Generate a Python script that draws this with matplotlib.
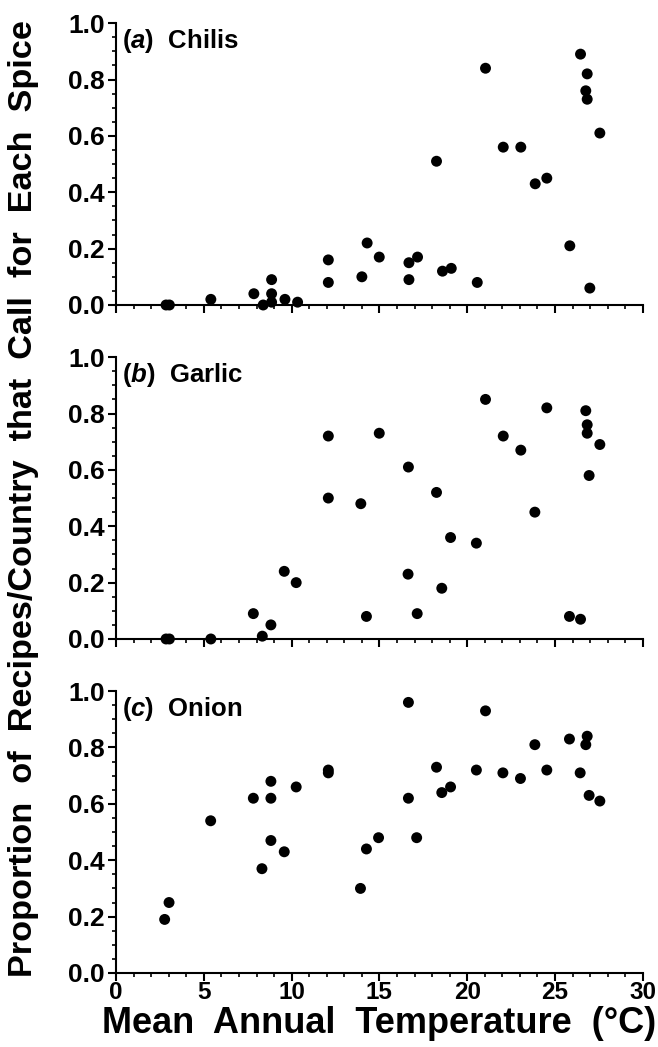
import matplotlib.pyplot as plt
from matplotlib.ticker import MultipleLocator, FormatStrFormatter

plt.rcParams["font.family"] = ["Liberation Sans", "DejaVu Sans"]
plt.rcParams["font.weight"] = "bold"
plt.rcParams["mathtext.fontset"] = "custom"
plt.rcParams["mathtext.it"] = "Liberation Sans:italic:bold"

# Mean annual temperature (C) and proportion of recipes
chili_t = [2.85, 3.04, 5.4, 7.85, 8.86, 8.86, 8.38, 8.86, 9.62, 10.34, 12.09, 12.09,
           14.3, 14.0, 14.99, 16.68, 17.17, 16.68, 18.59, 19.09, 18.25, 21.04, 20.57,
           22.05, 23.05, 23.87, 24.53, 25.84, 26.45, 26.83, 26.75, 26.83, 27.55, 26.98]
chili_p = [0.0, 0.0, 0.02, 0.04, 0.09, 0.04, 0.0, 0.01, 0.02, 0.01, 0.16, 0.08,
           0.22, 0.10, 0.17, 0.15, 0.17, 0.09, 0.12, 0.13, 0.51, 0.84, 0.08,
           0.56, 0.56, 0.43, 0.45, 0.21, 0.89, 0.82, 0.76, 0.73, 0.61, 0.06]

garlic_t = [2.85, 3.04, 5.4, 7.82, 8.33, 8.82, 9.58, 10.26, 12.09, 12.09,
            14.99, 13.94, 14.26, 16.65, 16.63, 17.15, 18.25, 18.55, 19.05, 20.52,
            21.04, 22.05, 23.05, 23.85, 24.53, 25.82, 26.45, 26.75, 26.83, 26.83,
            27.55, 26.94]
garlic_p = [0.0, 0.0, 0.0, 0.09, 0.01, 0.05, 0.24, 0.20, 0.72, 0.50,
            0.73, 0.48, 0.08, 0.61, 0.23, 0.09, 0.52, 0.18, 0.36, 0.34,
            0.85, 0.72, 0.67, 0.45, 0.82, 0.08, 0.07, 0.81, 0.76, 0.73,
            0.69, 0.58]

onion_t = [2.77, 3.02, 5.39, 7.82, 8.82, 8.82, 8.82, 8.31, 9.58, 10.26, 12.09, 12.09,
           16.65, 21.04, 13.92, 14.26, 14.95, 16.65, 17.12, 18.25, 18.55, 19.05,
           20.52, 22.03, 23.03, 23.85, 24.53, 25.82, 26.43, 26.83, 26.75, 26.94, 27.55]
onion_p = [0.19, 0.25, 0.54, 0.62, 0.68, 0.62, 0.47, 0.37, 0.43, 0.66, 0.71, 0.72,
           0.96, 0.93, 0.30, 0.44, 0.48, 0.62, 0.48, 0.73, 0.64, 0.66,
           0.72, 0.71, 0.69, 0.81, 0.72, 0.83, 0.71, 0.84, 0.81, 0.63, 0.61]

panels = [("a", "Chilis", chili_t, chili_p),
          ("b", "Garlic", garlic_t, garlic_p),
          ("c", "Onion", onion_t, onion_p)]

fig = plt.figure(figsize=(6.58, 10.47), dpi=100)

left, width, height = 0.1763, 0.8007, 0.2692
bottoms = [0.7087, 0.3897, 0.0707]

for i, (tag, name, t, p) in enumerate(panels):
    ax = fig.add_axes([left, bottoms[i], width, height])
    ax.scatter(t, p, s=62, c="black", edgecolors="none", clip_on=False, zorder=5)
    ax.set_xlim(0, 30)
    ax.set_ylim(0, 1.0)
    for s in ["top", "right"]:
        ax.spines[s].set_visible(False)
    for s in ["left", "bottom"]:
        ax.spines[s].set_linewidth(1.5)
    ax.xaxis.set_major_locator(MultipleLocator(5))
    ax.xaxis.set_minor_locator(MultipleLocator(1))
    ax.yaxis.set_major_locator(MultipleLocator(0.2))
    ax.yaxis.set_minor_locator(MultipleLocator(0.05))
    ax.yaxis.set_major_formatter(FormatStrFormatter("%.1f"))
    ax.tick_params(which="major", direction="out", length=6, width=1.5, labelsize=19, pad=2)
    ax.tick_params(which="minor", direction="out", length=3, width=1.2)
    ax.tick_params(axis="x", pad=0, labelsize=17.5)
    if i < 2:
        ax.tick_params(axis="x", labelbottom=False)
    ax.text(0.012, 0.935, r"($\mathit{%s}$)  %s" % (tag, name), transform=ax.transAxes,
            fontsize=18.5, fontweight="bold", ha="left", va="center")
    if i == 2:
        ax.set_xlabel("Mean  Annual  Temperature  (°C)", fontsize=26, fontweight="bold", labelpad=1)

fig.text(0.036, 0.5235, "Proportion  of  Recipes/Country  that  Call  for  Each  Spice",
         rotation=90, fontsize=24.7, fontweight="bold", ha="center", va="center")

fig.savefig("out.png", dpi=100)
